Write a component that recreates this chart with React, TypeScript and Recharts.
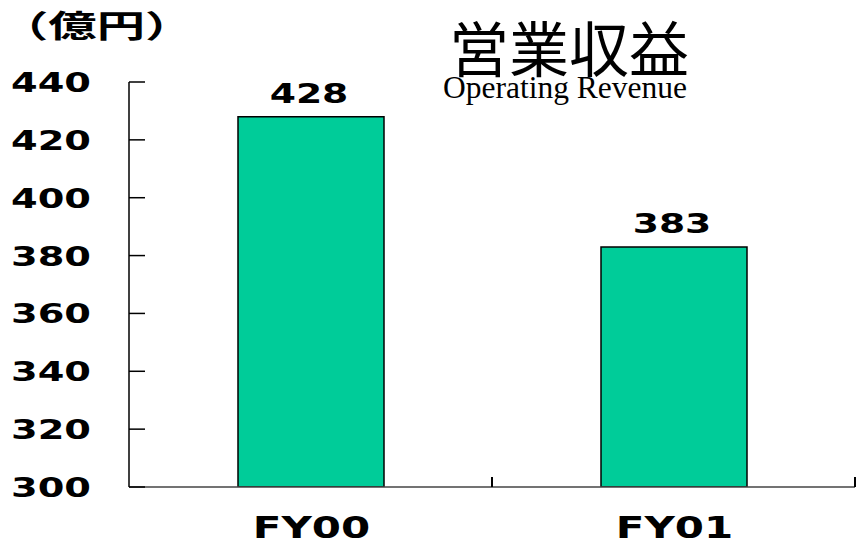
import { BarChart, Bar, XAxis, YAxis, LabelList } from 'recharts'

const categories = ['FY00', 'FY01']
const revenue = [428, 383]
const yTicks = [300, 320, 340, 360, 380, 400, 420, 440]

const data = categories.map((c, i) => ({ name: c, value: revenue[i] }))

const NUM_FONT = '"DejaVu Sans", sans-serif'

function WideText({ x, y, anchor, size, wide = 1.5, children }: { x: number; y: number; anchor: string; size: number; wide?: number; children: any }) {
  return (
    <text
      transform={`translate(${x},${y}) scale(${wide},1)`}
      textAnchor={anchor as any}
      fontFamily={NUM_FONT}
      fontWeight="bold"
      fontSize={size}
      fill="#000"
    >
      {children}
    </text>
  )
}

// eslint-disable-next-line @typescript-eslint/no-explicit-any
function YTick(props: any) {
  const { x, y, payload } = props
  return (
    <g>
      <line x1={x} x2={x + 16} y1={y} y2={y} stroke="#000" strokeWidth={1.5} />
      <WideText x={x - 38} y={y + 10} anchor="end" size={27} wide={1.42}>{payload.value}</WideText>
    </g>
  )
}

// eslint-disable-next-line @typescript-eslint/no-explicit-any
function XTick(props: any) {
  const { x, y, payload } = props
  const edge = x + (payload.offset ?? 0)
  return (
    <g>
      <line x1={edge} x2={edge} y1={y} y2={y - 10} stroke="#000" strokeWidth={2} />
      <WideText x={x + 1} y={y + 51} anchor="middle" size={30} wide={1.4}>{payload.value}</WideText>
    </g>
  )
}

// eslint-disable-next-line @typescript-eslint/no-explicit-any
function BarValue(props: any) {
  const { x, y, width, value } = props
  return <WideText x={x + width / 2 - 2} y={y - 14} anchor="middle" size={26} wide={1.45}>{value}</WideText>
}

export default function App() {
  return (
    <div style={{ position: 'absolute', left: 0, top: 0, width: 856, height: 540, background: '#fff', overflow: 'hidden' }}>
      <div
        style={{
          position: 'absolute',
          left: 0,
          top: 4,
          fontFamily: '"Noto Sans CJK JP", sans-serif',
          fontWeight: 700,
          fontSize: 31,
          lineHeight: '40px',
          transform: 'scaleX(1.56)',
          transformOrigin: 'left top',
          whiteSpace: 'nowrap',
        }}
      >
        （億円）
      </div>
      <div
        style={{
          position: 'absolute',
          left: 449,
          top: 10,
          fontFamily: '"Noto Sans CJK JP", sans-serif',
          fontSize: 60,
          lineHeight: '72px',
          whiteSpace: 'nowrap',
        }}
      >
        営業収益
      </div>
      <div
        style={{
          position: 'absolute',
          left: 443,
          top: 70,
          fontFamily: '"Liberation Serif", serif',
          fontSize: 31.5,
          lineHeight: '36px',
          whiteSpace: 'nowrap',
        }}
      >
        Operating Revenue
      </div>
      <BarChart
        width={856}
        height={540}
        data={data}
        margin={{ top: 82, right: 1, bottom: 0, left: 0 }}
        barSize={146}
      >
        <XAxis
          dataKey="name"
          height={53}
          axisLine={{ stroke: '#444', strokeWidth: 1.5 }}
          tickLine={false}
          tickSize={0}
          tickMargin={0}
          tick={<XTick />}
          interval={0}
        />
        <YAxis
          width={129}
          domain={[300, 440]}
          ticks={yTicks}
          allowDataOverflow
          axisLine={{ stroke: '#000', strokeWidth: 1.5 }}
          tickLine={false}
          tickSize={0}
          tickMargin={0}
          tick={<YTick />}
          interval={0}
        />
        <Bar dataKey="value" fill="#00CC99" stroke="#000" strokeWidth={1.5} isAnimationActive={false}>
          <LabelList dataKey="value" content={<BarValue />} />
        </Bar>
      </BarChart>
    </div>
  )
}
